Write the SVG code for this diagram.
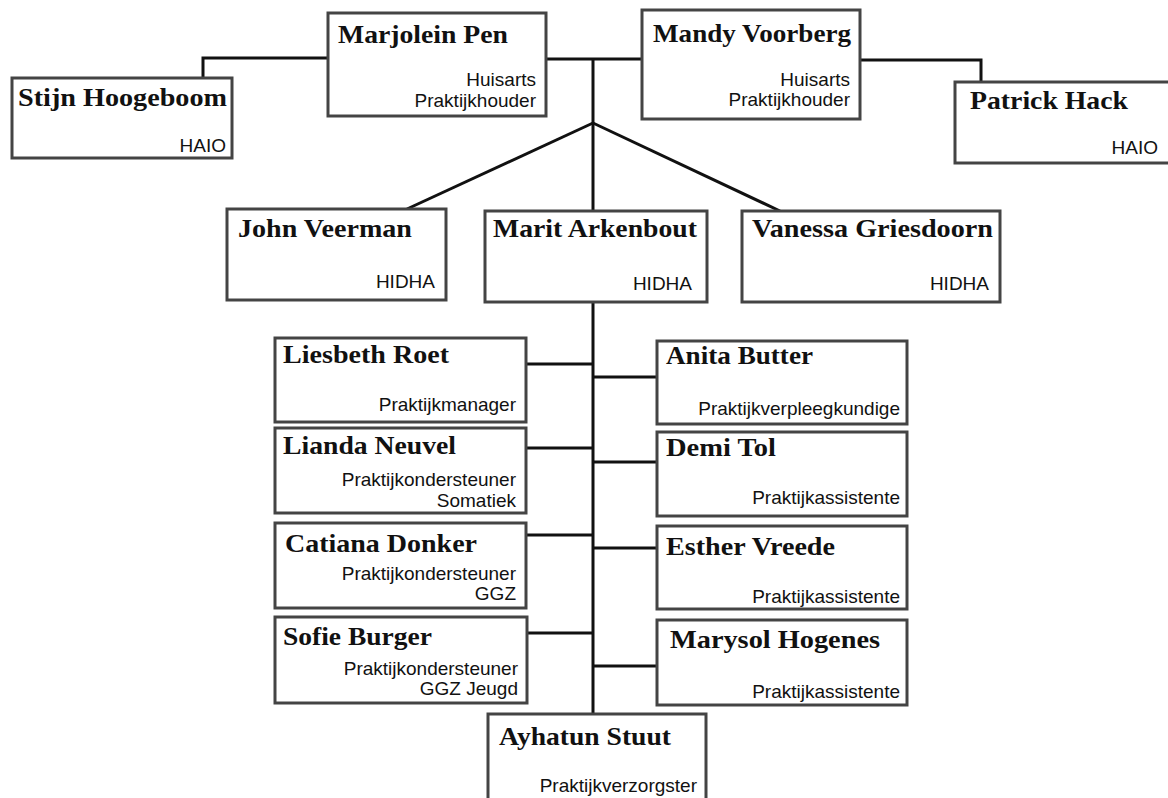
<svg xmlns="http://www.w3.org/2000/svg" width="1168" height="798" viewBox="0 0 1168 798">
<style>
.box{fill:#fff;stroke:#444;stroke-width:3}
.nm{font-family:"Liberation Serif","Times New Roman",serif;font-weight:bold;font-size:25px;fill:#111}
.rl{font-family:"Liberation Sans",Arial,sans-serif;font-size:19px;fill:#111;text-anchor:end}
.ln{fill:none;stroke:#111;stroke-width:3}
</style>
<rect width="1168" height="798" fill="#fff"/>
<g id="connectors">
<path class="ln" d="M203,78 V58 H328"/>
<path class="ln" d="M546,59 H642"/>
<path class="ln" d="M860,60 H981 V82"/>
<path class="ln" d="M593,59 V211"/>
<path class="ln" d="M593,123 L407,209"/>
<path class="ln" d="M593,123 L780,211"/>
<path class="ln" d="M593,302 V714"/>
<path class="ln" d="M526,364 H593 M526,448 H593 M526,535 H593 M526,633 H593"/>
<path class="ln" d="M593,377 H657 M593,462 H657 M593,548 H657 M593,666 H657"/>
</g>
<g id="stijn"><rect class="box" x="12" y="78" width="220" height="80"/><text class="nm" x="18" y="106" textLength="209" lengthAdjust="spacingAndGlyphs">Stijn Hoogeboom</text><text class="rl" x="226" y="152">HAIO</text></g>
<g id="marjolein"><rect class="box" x="328" y="13" width="218" height="103"/><text class="nm" x="338" y="43" textLength="170" lengthAdjust="spacingAndGlyphs">Marjolein Pen</text><text class="rl" x="536" y="86">Huisarts</text><text class="rl" x="536" y="107">Praktijkhouder</text></g>
<g id="mandy"><rect class="box" x="642" y="10" width="218" height="109"/><text class="nm" x="653" y="42" textLength="198" lengthAdjust="spacingAndGlyphs">Mandy Voorberg</text><text class="rl" x="850" y="86">Huisarts</text><text class="rl" x="850" y="106">Praktijkhouder</text></g>
<g id="patrick"><rect class="box" x="955" y="82" width="220" height="81"/><text class="nm" x="970" y="109" textLength="158" lengthAdjust="spacingAndGlyphs">Patrick Hack</text><text class="rl" x="1158" y="154">HAIO</text></g>
<g id="john"><rect class="box" x="227" y="209" width="219" height="91"/><text class="nm" x="238" y="237" textLength="174" lengthAdjust="spacingAndGlyphs">John Veerman</text><text class="rl" x="435" y="288">HIDHA</text></g>
<g id="marit"><rect class="box" x="485" y="211" width="222" height="91"/><text class="nm" x="493" y="237" textLength="204" lengthAdjust="spacingAndGlyphs">Marit Arkenbout</text><text class="rl" x="692" y="290">HIDHA</text></g>
<g id="vanessa"><rect class="box" x="742" y="211" width="258" height="91"/><text class="nm" x="752" y="237" textLength="241" lengthAdjust="spacingAndGlyphs">Vanessa Griesdoorn</text><text class="rl" x="989" y="290">HIDHA</text></g>
<g id="liesbeth"><rect class="box" x="275" y="338" width="251" height="84"/><text class="nm" x="283" y="363" textLength="166" lengthAdjust="spacingAndGlyphs">Liesbeth Roet</text><text class="rl" x="516" y="411">Praktijkmanager</text></g>
<g id="anita"><rect class="box" x="657" y="341" width="250" height="83"/><text class="nm" x="666" y="364" textLength="147" lengthAdjust="spacingAndGlyphs">Anita Butter</text><text class="rl" x="900" y="415">Praktijkverpleegkundige</text></g>
<g id="lianda"><rect class="box" x="275" y="428" width="251" height="85"/><text class="nm" x="283" y="454" textLength="173" lengthAdjust="spacingAndGlyphs">Lianda Neuvel</text><text class="rl" x="516" y="486">Praktijkondersteuner</text><text class="rl" x="516" y="507">Somatiek</text></g>
<g id="demi"><rect class="box" x="657" y="432" width="250" height="84"/><text class="nm" x="666" y="456" textLength="110" lengthAdjust="spacingAndGlyphs">Demi Tol</text><text class="rl" x="900" y="504">Praktijkassistente</text></g>
<g id="catiana"><rect class="box" x="275" y="523" width="251" height="85"/><text class="nm" x="285" y="552" textLength="192" lengthAdjust="spacingAndGlyphs">Catiana Donker</text><text class="rl" x="516" y="580">Praktijkondersteuner</text><text class="rl" x="516" y="600">GGZ</text></g>
<g id="esther"><rect class="box" x="657" y="526" width="250" height="83"/><text class="nm" x="666" y="555" textLength="169" lengthAdjust="spacingAndGlyphs">Esther Vreede</text><text class="rl" x="900" y="603">Praktijkassistente</text></g>
<g id="sofie"><rect class="box" x="275" y="617" width="252" height="86"/><text class="nm" x="283" y="645" textLength="149" lengthAdjust="spacingAndGlyphs">Sofie Burger</text><text class="rl" x="518" y="675">Praktijkondersteuner</text><text class="rl" x="518" y="695">GGZ Jeugd</text></g>
<g id="marysol"><rect class="box" x="657" y="620" width="250" height="85"/><text class="nm" x="670" y="648" textLength="210" lengthAdjust="spacingAndGlyphs">Marysol Hogenes</text><text class="rl" x="900" y="698">Praktijkassistente</text></g>
<g id="ayhatun"><rect class="box" x="488" y="714" width="218" height="100"/><text class="nm" x="499" y="745" textLength="172" lengthAdjust="spacingAndGlyphs">Ayhatun Stuut</text><text class="rl" x="697" y="792">Praktijkverzorgster</text></g>
</svg>
